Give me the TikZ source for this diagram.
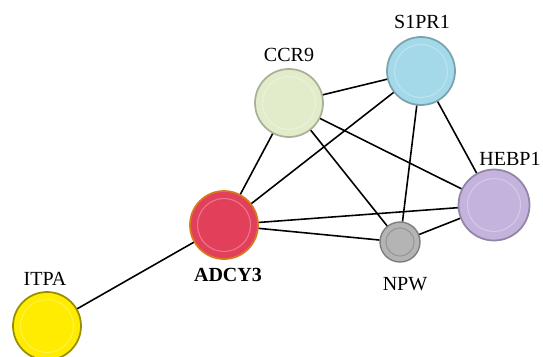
\documentclass[tikz,border=0pt]{standalone}
\usepackage{fontspec}
\setmainfont{Liberation Serif}
\definecolor{adcyred}{HTML}{E2405A}
\definecolor{adcyrim}{HTML}{D9781E}
\definecolor{ccrgreen}{HTML}{E2ECCB}
\definecolor{sprblue}{HTML}{A3D9E9}
\definecolor{hebpurple}{HTML}{C3B3DD}
\definecolor{npwgray}{HTML}{B4B4B4}
\definecolor{itpayellow}{HTML}{FFEC00}
\tikzset{
  protein/.style={circle, draw=#1!75!black, fill=#1, minimum size=13.6mm, inner sep=0pt, line width=1pt,
    path picture={\draw[#1!70!white, line width=0.6pt] (path picture bounding box.center) circle[radius=5.3mm];}},
  smallprotein/.style={circle, draw=#1!70!black, fill=#1, minimum size=8mm, inner sep=0pt, line width=0.8pt,
    path picture={\draw[#1!80!black, line width=0.5pt] (path picture bounding box.center) circle[radius=2.8mm];}},
  name label/.style={font=\fontsize{11.4}{13}\selectfont, inner sep=0pt},
  interaction/.style={line width=0.9pt, black}
}
\begin{document}
\begin{tikzpicture}[x=0.02cm, y=-0.02cm]
  \useasboundingbox (0,0) rectangle (543,356);

  \node[protein=itpayellow, draw=itpayellow!60!black] (ITPA) at (47,326) {};
  \node[protein=adcyred, draw=adcyrim] (ADCY3) at (224,225) {};
  \node[protein=ccrgreen] (CCR9) at (289,103) {};
  \node[protein=sprblue] (S1PR1) at (421,71) {};
  \node[protein=hebpurple, minimum size=14.2mm] (HEBP1) at (494,205) {};
  \node[smallprotein=npwgray] (NPW) at (400,242) {};

  \node[name label] (ITPAlabel) at (45,279) {ITPA};
  \node[name label, font=\fontsize{11.4}{13}\selectfont\bfseries] (ADCY3label) at (228,275) {ADCY3};
  \node[name label] (CCR9label) at (289,55) {CCR9};
  \node[name label] (S1PR1label) at (422,22) {S1PR1};
  \node[name label] (HEBP1label) at (510,159) {HEBP1};
  \node[name label] (NPWlabel) at (405,284) {NPW};

  \draw[interaction] (ADCY3) -- (ITPA);
  \draw[interaction] (ADCY3) -- (CCR9);
  \draw[interaction] (ADCY3) -- (S1PR1);
  \draw[interaction] (ADCY3) -- (HEBP1);
  \draw[interaction] (ADCY3) -- (NPW);
  \draw[interaction] (CCR9) -- (S1PR1);
  \draw[interaction] (CCR9) -- (HEBP1);
  \draw[interaction] (CCR9) -- (NPW);
  \draw[interaction] (S1PR1) -- (HEBP1);
  \draw[interaction] (S1PR1) -- (NPW);
  \draw[interaction] (HEBP1) -- (NPW);
\end{tikzpicture}
\end{document}
